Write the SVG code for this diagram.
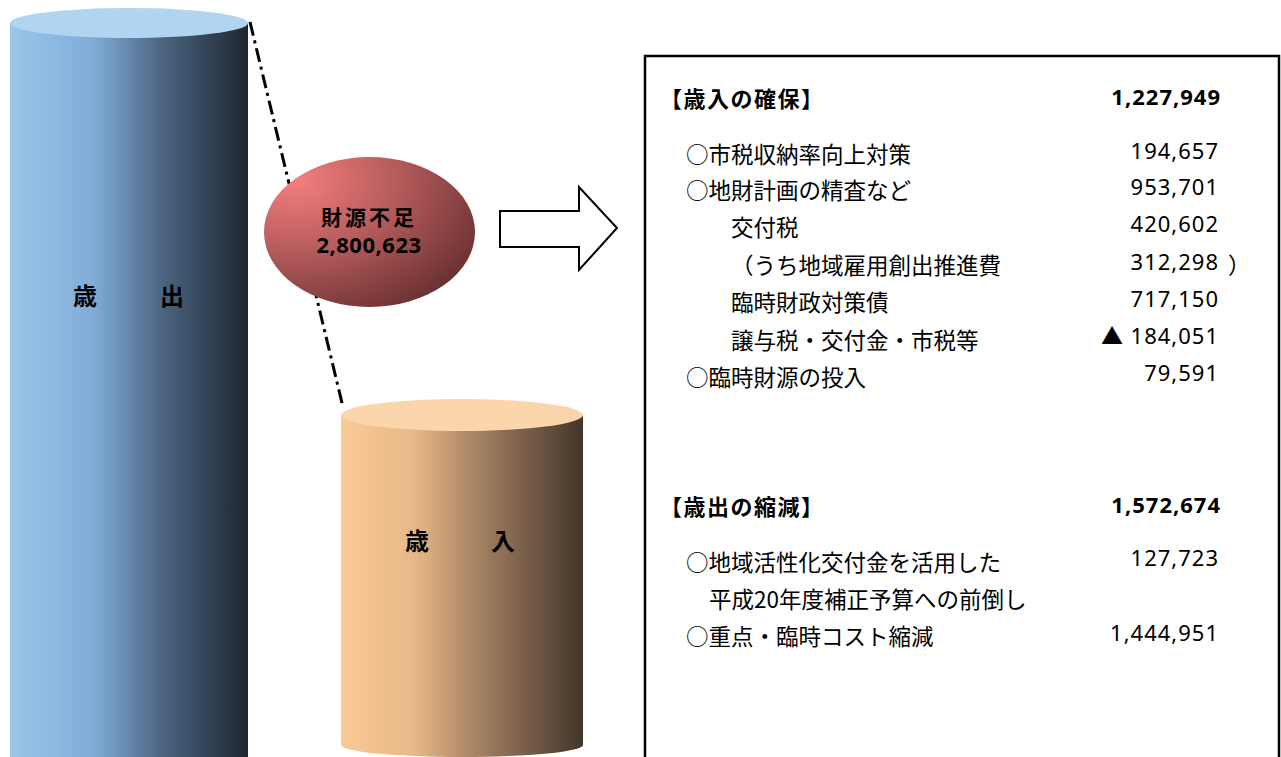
<svg xmlns="http://www.w3.org/2000/svg" width="1281" height="757" viewBox="0 0 1281 757">
<defs>
<linearGradient id="gBlue" x1="0" y1="0" x2="1" y2="0">
<stop offset="0" stop-color="#9CC5E9"/>
<stop offset="0.35" stop-color="#80ACD8"/>
<stop offset="0.65" stop-color="#4A637D"/>
<stop offset="1" stop-color="#1D2630"/>
</linearGradient>
<linearGradient id="gTan" x1="0" y1="0" x2="1" y2="0">
<stop offset="0" stop-color="#F9C996"/>
<stop offset="0.3" stop-color="#E9B888"/>
<stop offset="0.6" stop-color="#9C7B5D"/>
<stop offset="1" stop-color="#43362A"/>
</linearGradient>
<radialGradient id="gRed" cx="0.15" cy="0.15" r="1.0">
<stop offset="0" stop-color="#F47E7E"/>
<stop offset="0.5" stop-color="#B35A5A"/>
<stop offset="1" stop-color="#6A3131"/>
</radialGradient>
<style>
.lbl{font-family:"Noto Sans CJK JP","Noto Sans",sans-serif;font-size:22.5px;fill:#000}
.hd{font-family:"Noto Sans CJK JP","Noto Sans",sans-serif;font-size:22px;font-weight:bold;letter-spacing:1.5px;fill:#000}
.cyl{font-family:"Noto Sans CJK JP",sans-serif;font-size:24px;font-weight:bold;fill:#000}
.num{font-family:"Noto Sans","Noto Sans CJK JP",sans-serif;font-size:22px;letter-spacing:1px;fill:#000;text-anchor:end}
.b{font-weight:bold}
</style>
</defs>
<rect width="1281" height="757" fill="#fff"/>
<g id="connectors">
<line x1="250" y1="22" x2="343" y2="407" stroke="#000" stroke-width="3" stroke-dasharray="14,5,3,5"/>
</g>
<g id="expenditure">
<rect x="10" y="23" width="238" height="740" fill="url(#gBlue)"/>
<ellipse cx="129" cy="23" rx="119" ry="15" fill="#B1D4F0"/>
<text class="cyl" x="73" y="305">歳</text>
<text class="cyl" x="160" y="305">出</text>
</g>
<g id="revenue">
<path d="M341 415 L341 745 A121 12 0 0 0 583 745 L583 415 Z" fill="url(#gTan)"/>
<ellipse cx="462" cy="415" rx="121" ry="16" fill="#FBD5AC"/>
<text class="cyl" x="405" y="550">歳</text>
<text class="cyl" x="491" y="550">入</text>
</g>
<g id="shortfall">
<ellipse cx="369.5" cy="232" rx="105.5" ry="75" fill="url(#gRed)"/>
<text class="cyl" x="369" y="225" text-anchor="middle" style="font-size:21px;letter-spacing:3px">財源不足</text>
<text class="cyl" x="369" y="253" text-anchor="middle" style="font-family:'Noto Sans',sans-serif;font-size:22px;letter-spacing:0.5px">2,800,623</text>
</g>
<g id="arrow">
<polygon points="500,211 579,211 579,187 617,228 579,270 579,247 500,247" fill="#fff" stroke="#000" stroke-width="2"/>
</g>
<g id="measures">
<rect x="645" y="56" width="634" height="720" fill="#fff" stroke="#000" stroke-width="2.5"/>
<text class="hd" x="660" y="107">【歳入の確保】</text>
<text class="num b" x="1221" y="105">1,227,949</text>
<text class="lbl" x="686" y="163">○市税収納率向上対策</text>
<text class="num" x="1219" y="159">194,657</text>
<text class="lbl" x="686" y="199">○地財計画の精査など</text>
<text class="num" x="1219" y="195">953,701</text>
<text class="lbl" x="731" y="236">交付税</text>
<text class="num" x="1219" y="232">420,602</text>
<text class="lbl" x="731" y="274">（うち地域雇用創出推進費</text>
<text class="num" x="1219" y="270">312,298</text>
<text class="lbl" x="1228" y="274">）</text>
<text class="lbl" x="731" y="311">臨時財政対策債</text>
<text class="num" x="1219" y="307">717,150</text>
<text class="lbl" x="731" y="349">譲与税・交付金・市税等</text>
<text class="num" x="1219" y="344">▲ 184,051</text>
<text class="lbl" x="686" y="386">○臨時財源の投入</text>
<text class="num" x="1219" y="381">79,591</text>
<text class="hd" x="660" y="515">【歳出の縮減】</text>
<text class="num b" x="1221" y="513">1,572,674</text>
<text class="lbl" x="686" y="571">○地域活性化交付金を活用した</text>
<text class="num" x="1219" y="566">127,723</text>
<text class="lbl" x="709" y="608">平成20年度補正予算への前倒し</text>
<text class="lbl" x="686" y="645">○重点・臨時コスト縮減</text>
<text class="num" x="1219" y="641">1,444,951</text>
</g>
</svg>
